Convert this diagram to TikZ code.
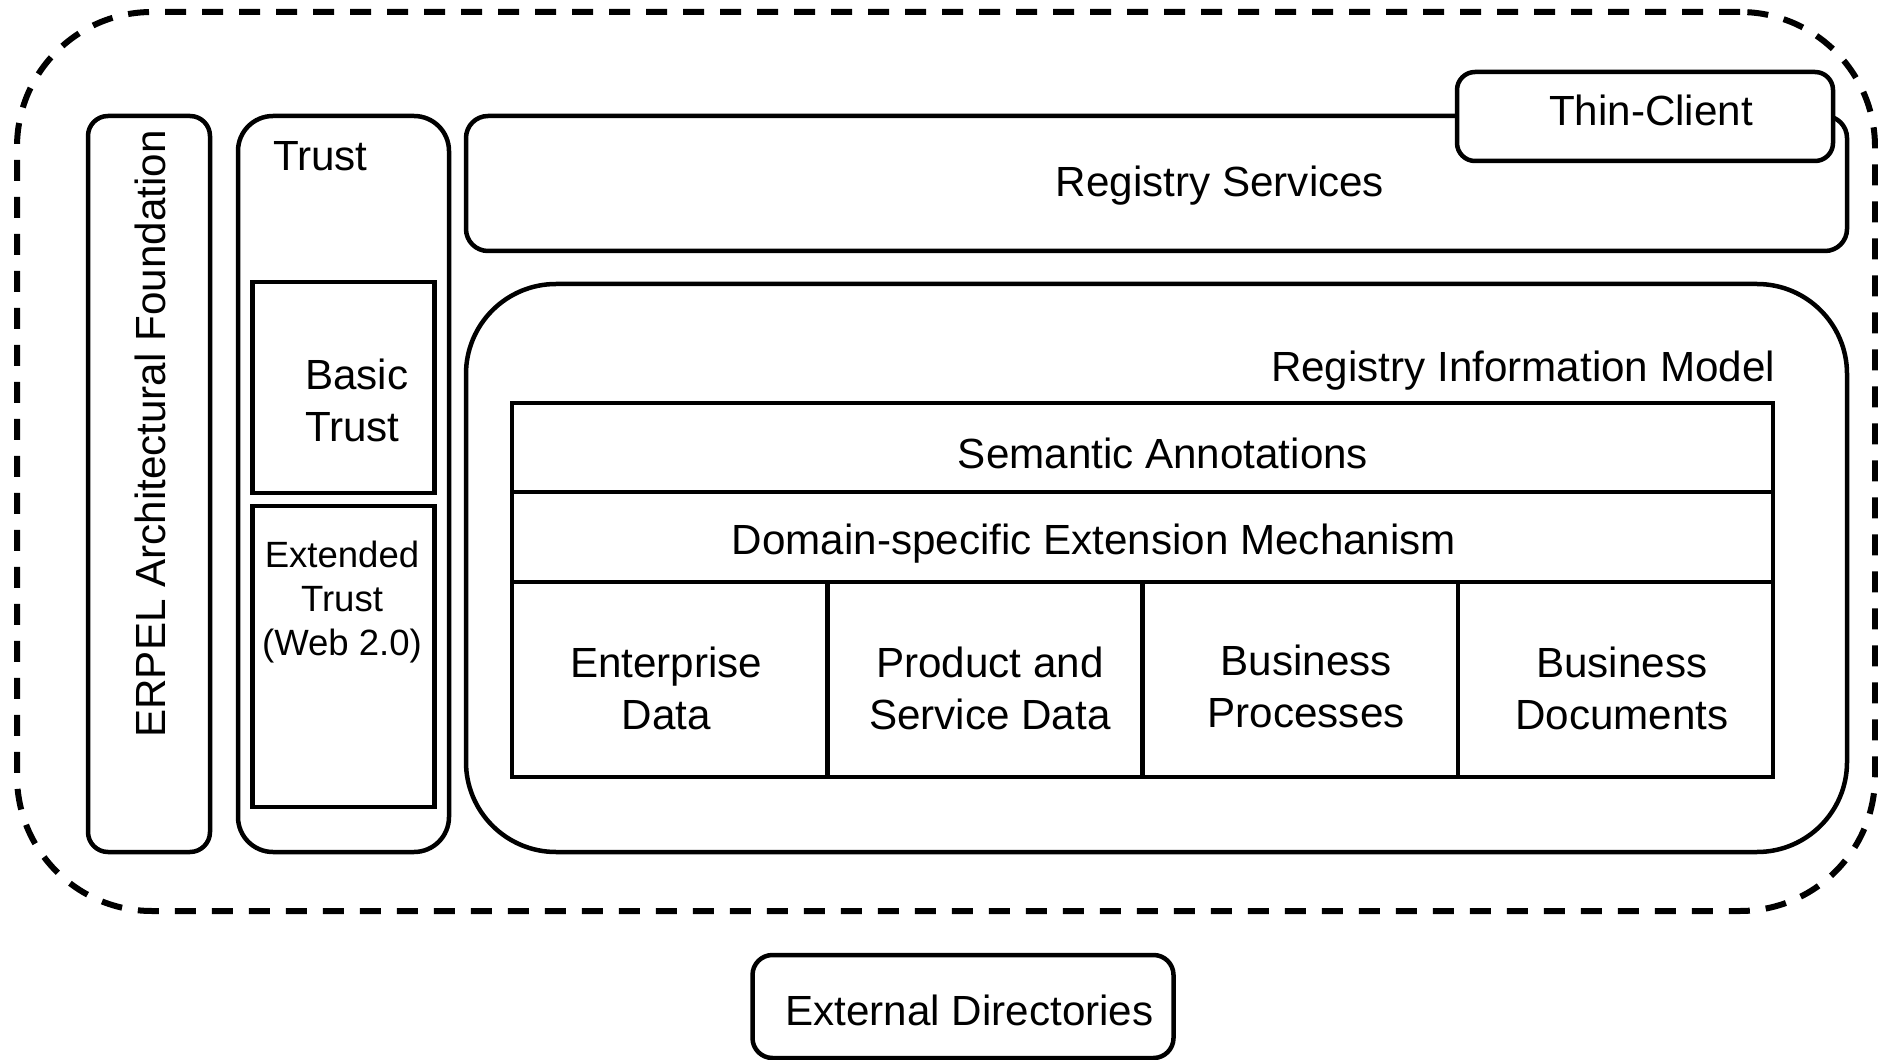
\documentclass[tikz,border=0pt]{standalone}
\usepackage{fontspec}
\setmainfont{Liberation Sans}
\usetikzlibrary{positioning, calc}
\tikzstyle{line} = [line width=0.9mm]
\tikzstyle{basic} = [rectangle, draw=black, line width=0.9mm, fill=white, inner sep=0pt, outer sep=0pt]
\tikzstyle{cell} = [basic, minimum width=63.05mm, minimum height=39mm, anchor=north west]
\tikzstyle{txt} = [inner sep=0pt, outer sep=0pt, font=\fontsize{24}{29.3}\selectfont]
\tikzstyle{smalltxt} = [inner sep=0pt, outer sep=0pt, font=\fontsize{20.8}{25}\selectfont]

\begin{document}
\begin{tikzpicture}
\useasboundingbox (0,0) rectangle (375.6mm,-212mm);

\node (frame) [basic, fill=none, line width=1.2mm, dash pattern=on 4.2mm off 3.2mm, rounded corners=27mm, minimum width=371.6mm, minimum height=179.8mm, anchor=north west] at(3.4mm,-2.4mm) {};

\node (erpel) [basic, rounded corners=4mm, minimum width=24.4mm, minimum height=147.2mm, anchor=north west, xshift=14.2mm, yshift=-20.8mm] at(frame.north west) {};
\node (trust) [basic, rounded corners=7mm, minimum width=42.2mm, minimum height=147.2mm, anchor=north west, xshift=5.6mm] at(erpel.north east) {};
\node (basictrust) [basic, minimum width=36.4mm, minimum height=42.2mm, anchor=north, yshift=-33.2mm] at(trust.north) {};
\node (exttrust) [basic, minimum width=36.4mm, minimum height=60.2mm, anchor=north, yshift=-2.6mm] at(basictrust.south) {};

\node (regserv) [basic, rounded corners=4.4mm, minimum width=276.2mm, minimum height=27mm, anchor=north west, xshift=3.4mm] at(trust.north east) {};
\node (thin) [basic, rounded corners=3.6mm, minimum width=75.2mm, minimum height=17.8mm, anchor=north east, xshift=-2.8mm, yshift=8.8mm] at(regserv.north east) {};
\node (rim) [basic, rounded corners=18mm, minimum width=276.2mm, minimum height=113.6mm, anchor=north west, yshift=-6.6mm] at(regserv.south west) {};

\node (sem) [basic, minimum width=252.2mm, minimum height=17.8mm, anchor=north west, xshift=9.2mm, yshift=-23.8mm] at(rim.north west) {};
\node (dom) [basic, minimum width=252.2mm, minimum height=18mm, anchor=north] at(sem.south) {};
\node (cell0) [cell] at(dom.south west) {};
\node (cell1) [cell] at(cell0.north east) {};
\node (cell2) [cell] at(cell1.north east) {};
\node (cell3) [cell] at(cell2.north east) {};

\node (extdir) [basic, rounded corners=4mm, minimum width=84.2mm, minimum height=20.6mm, anchor=north, xshift=3.4mm, yshift=-8.8mm] at(frame.south) {};

% labels
\node (erpelTxt) [txt, rotate=90, anchor=base] at($(erpel.center)+(3.2mm, 10mm)$) {ERPEL Architectural Foundation};
\node (trustTxt) [txt, anchor=base west, xshift=7mm, yshift=-11mm] at(trust.north west) {Trust};
\node (basicTxt) [txt, align=left, anchor=north west, xshift=10.5mm, yshift=-15.4mm] at(basictrust.north west) {Basic\\Trust};
\node (extTxt) [smalltxt, align=center, anchor=north, xshift=-0.3mm, yshift=-7mm] at(exttrust.north) {Extended\\Trust\\(Web 2.0)};

\node (regTxt) [txt, anchor=base, xshift=12.7mm, yshift=-2.7mm] at(regserv.center) {Registry Services};
\node (thinTxt) [txt, anchor=base, xshift=1.2mm, yshift=-1.9mm] at(thin.center) {Thin-Client};
\node (rimTxt) [txt, anchor=base east, xshift=-14.4mm, yshift=-19.6mm] at(rim.north east) {Registry Information Model};
\node (semTxt) [txt, anchor=base, xshift=4.1mm, yshift=-4.3mm] at(sem.center) {Semantic Annotations};
\node (domTxt) [txt, anchor=base, xshift=-9.7mm, yshift=-3.4mm] at(dom.center) {Domain-specific Extension Mechanism};

\node (cell0Txt) [txt, align=center, anchor=north, xshift=-0.7mm, yshift=6.5mm] at(cell0.center) {Enterprise\\Data};
\node (cell1Txt) [txt, align=center, anchor=north, xshift=1mm, yshift=6.5mm] at(cell1.center) {Product and\\Service Data};
\node (cell2Txt) [txt, align=center, anchor=north, xshift=1.2mm, yshift=6.9mm] at(cell2.center) {Business\\Processes};
\node (cell3Txt) [txt, align=center, anchor=north, xshift=1.3mm, yshift=6.5mm] at(cell3.center) {Business\\Documents};

\node (extdirTxt) [txt, anchor=base, xshift=1.3mm, yshift=-3.7mm] at(extdir.center) {External Directories};

\end{tikzpicture}
\end{document}
